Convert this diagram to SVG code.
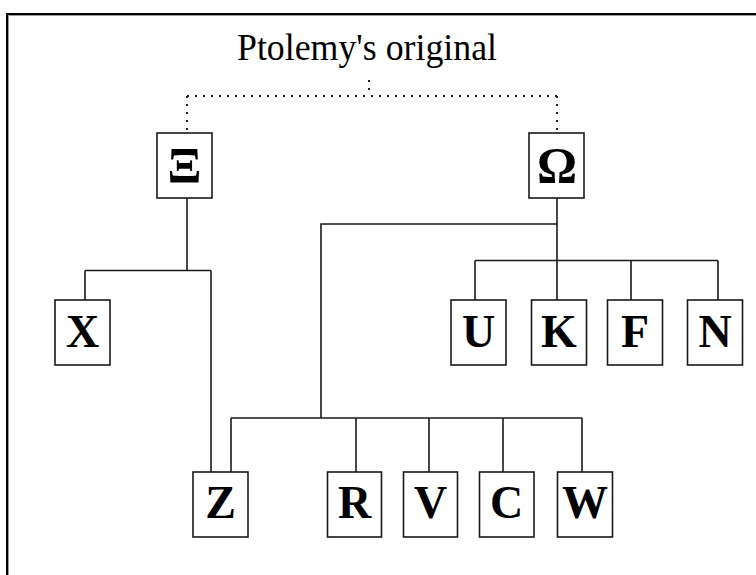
<svg xmlns="http://www.w3.org/2000/svg" width="756" height="575" viewBox="0 0 756 575">
  <style>
    .frame-dark { fill: none; stroke: #000; stroke-width: 2; }
    .frame-light { fill: none; stroke: #9a9a9a; stroke-width: 1; }
    .box { fill: #fff; stroke: #1a1a1a; stroke-width: 1.6; }
    .label { font-family: "Liberation Serif", "Times New Roman", serif; font-weight: bold; font-size: 46px; fill: #000; text-anchor: middle; }
    .greek { font-size: 50px; }
    .title { font-family: "Liberation Serif", "Times New Roman", serif; font-size: 37px; fill: #000; text-anchor: middle; }
    .link { fill: none; stroke: #1a1a1a; stroke-width: 1.6; }
    .dotted { fill: none; stroke: #222; stroke-width: 2; stroke-dasharray: 2 6; }
  </style>

  <rect width="756" height="575" fill="#fff"/>

  <!-- inset frame, open to the right and bottom -->
  <path class="frame-dark" d="M7,575 V14 H756"/>
  <path class="frame-light" d="M8.5,575 V15.5 H756"/>

  <text class="title" x="367" y="60" textLength="260" lengthAdjust="spacingAndGlyphs">Ptolemy's original</text>

  <g id="connectors">
    <!-- dotted link from the lost original to the two archetypes -->
    <path class="dotted" d="M369,80 V96 M187,96 H557 M187,96 V132 M557,96 V132"/>
    <!-- Xi family -->
    <path class="link" d="M187,198 V270.5 M85,270.5 H211 M85,270.5 V300 M211,270.5 V472"/>
    <!-- Omega family -->
    <path class="link" d="M557,198 V260.5 M475,260.5 H718 M475,260.5 V300 M557,260.5 V300 M631,260.5 V300 M718,260.5 V300"/>
    <path class="link" d="M557,224 H321 V418"/>
    <path class="link" d="M231,418 H582 M231,418 V472 M356,418 V472 M429,418 V472 M503,418 V472 M582,418 V472"/>
  </g>

  <g id="node-xi">
    <rect class="box" x="157" y="133" width="55" height="65"/>
    <text class="label greek" x="184.5" y="182">Ξ</text>
  </g>
  <g id="node-omega">
    <rect class="box" x="529" y="133" width="55" height="65"/>
    <text class="label greek" x="557" y="182">Ω</text>
  </g>
  <g id="node-x">
    <rect class="box" x="55" y="300" width="55" height="65"/>
    <text class="label" x="82.5" y="347">X</text>
  </g>
  <g id="node-u">
    <rect class="box" x="451" y="300" width="55" height="65"/>
    <text class="label" x="478.5" y="347">U</text>
  </g>
  <g id="node-k">
    <rect class="box" x="531.5" y="300" width="55" height="65"/>
    <text class="label" x="559" y="347">K</text>
  </g>
  <g id="node-f">
    <rect class="box" x="607.5" y="300" width="55" height="65"/>
    <text class="label" x="635" y="347">F</text>
  </g>
  <g id="node-n">
    <rect class="box" x="687.5" y="300" width="55" height="65"/>
    <text class="label" x="715" y="347">N</text>
  </g>
  <g id="node-z">
    <rect class="box" x="193" y="472" width="55" height="65"/>
    <text class="label" x="220.5" y="518">Z</text>
  </g>
  <g id="node-r">
    <rect class="box" x="327.5" y="472" width="54" height="65"/>
    <text class="label" x="354.5" y="518">R</text>
  </g>
  <g id="node-v">
    <rect class="box" x="403.5" y="472" width="54" height="65"/>
    <text class="label" x="430.5" y="518">V</text>
  </g>
  <g id="node-c">
    <rect class="box" x="479.5" y="472" width="54.5" height="65"/>
    <text class="label" x="506.5" y="518">C</text>
  </g>
  <g id="node-w">
    <rect class="box" x="557.5" y="472" width="55" height="65"/>
    <text class="label" x="585" y="518">W</text>
  </g>
</svg>
